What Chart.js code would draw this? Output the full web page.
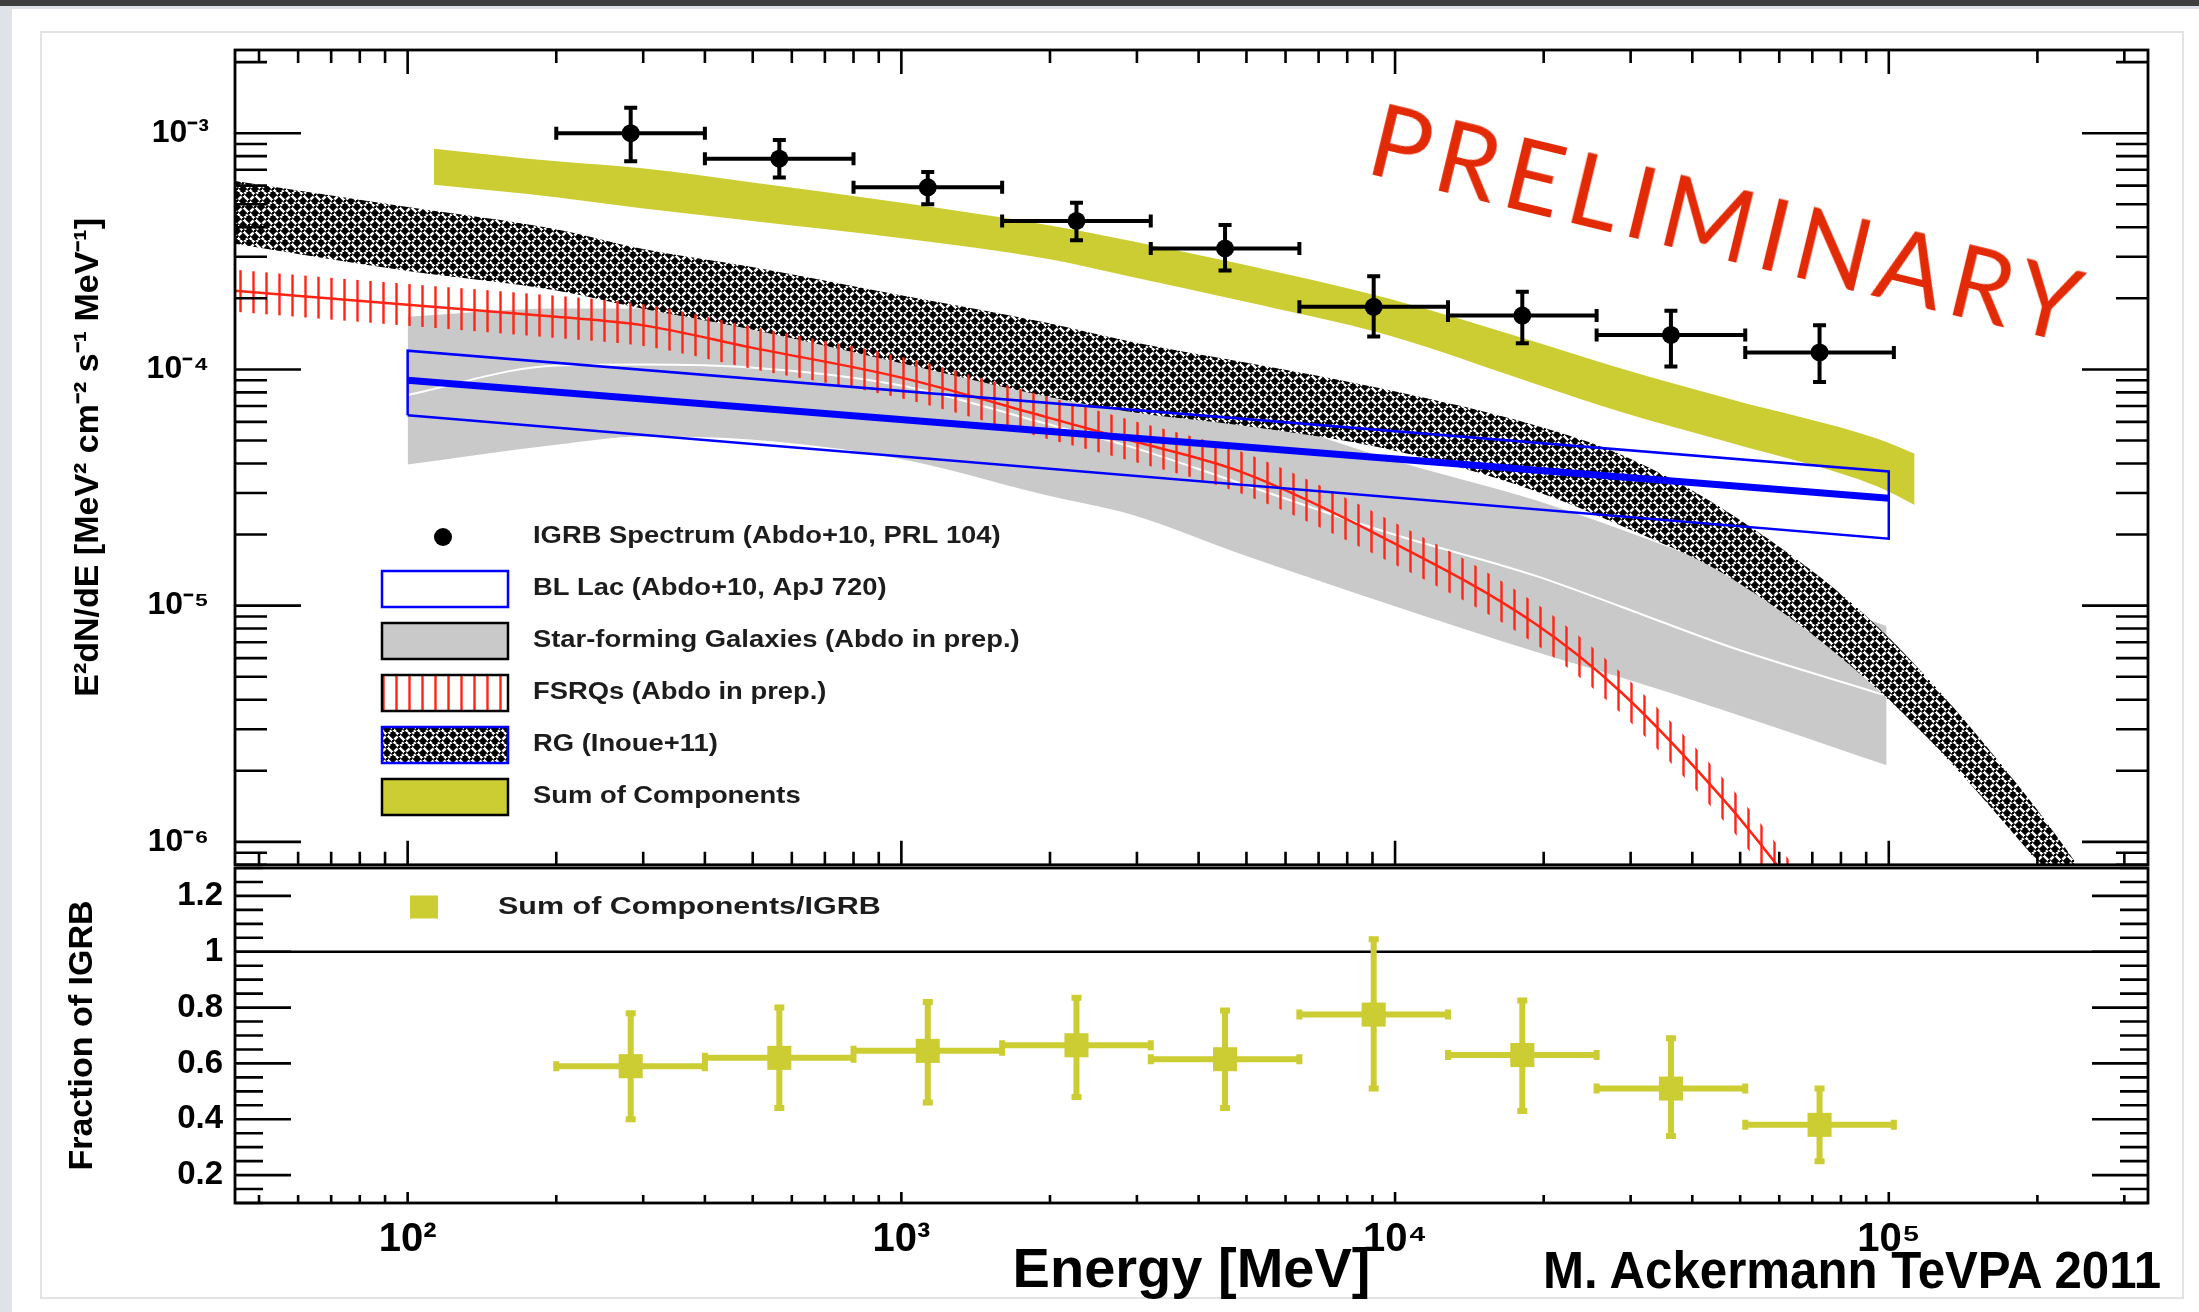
<!DOCTYPE html>
<html>
<head>
<meta charset="utf-8">
<title>IGRB source components</title>
<script src="https://cdn.jsdelivr.net/npm/chart.js@4.4.0/dist/chart.umd.min.js"></script>
<style>
  html, body { margin: 0; padding: 0; }
  body { width: 2199px; height: 1312px; background: #dfe3e7; position: relative; overflow: hidden; }
  #topbar { position: absolute; left: 0; top: 0; width: 2199px; height: 6px; background: #3f3f3f; }
  #sheet { position: absolute; left: 12px; top: 9px; width: 2187px; height: 1303px; background: #fff; }
  #frame { position: absolute; left: 40px; top: 31px; width: 2140px; height: 1264px; border: 2px solid #e3e3e3; }
  canvas { position: absolute; left: 0; }
  #cTop { top: 0; }
  #cBot { top: 836px; }
  #prelim {
    position: absolute; left: 1730px; top: 221px;
    transform: translate(-50%, -50%) rotate(13.6deg);
    font-family: Lato, 'Open Sans', sans-serif; font-size: 100px; letter-spacing: 8px;
    line-height: 1; color: #e22a06; white-space: nowrap;
  }
  #credit {
    position: absolute; left: 1543px; top: 1245px;
    font-family: 'Liberation Sans', Arial, sans-serif; font-weight: bold; font-size: 51px;
    line-height: 1; color: #000; white-space: nowrap;
    transform: scaleX(0.965); transform-origin: left center;
  }
</style>
</head>
<body>
<div id="topbar"></div>
<div id="sheet"></div>
<div id="frame"></div>
<canvas id="cTop" width="2199" height="910"></canvas>
<canvas id="cBot" width="2199" height="476"></canvas>
<div id="prelim">PRELIMINARY</div>
<div id="credit">M. Ackermann TeVPA 2011</div>
<script>
// axis ranges and tick labels
var xMin = 44.7, xMax = 3.35e5;
var fluxMin = 8.0e-7, fluxMax = 2.25e-3;
var fracMin = 0.1, fracMax = 1.3;
var energyTicks = [1e2, 1e3, 1e4, 1e5];
var fluxTicks = [1e-6, 1e-5, 1e-4, 1e-3];
var fracTicks = [0.2, 0.4, 0.6, 0.8, 1, 1.2];

// IGRB spectrum (energy bins in MeV, E^2 dN/dE)
var binLo  = [200, 400, 800, 1600, 3200, 6400, 12800, 25600, 51200];
var binHi  = [400, 800, 1600, 3200, 6400, 12800, 25600, 51200, 102400];
var binMid = [283, 566, 1131, 2263, 4525, 9051, 18102, 36204, 72408];
var igrbFlux = [1.0e-3, 7.8e-4, 5.9e-4, 4.25e-4, 3.25e-4, 1.84e-4, 1.69e-4, 1.40e-4, 1.18e-4];
var igrbUp   = [1.28e-3, 9.35e-4, 6.85e-4, 5.08e-4, 4.09e-4, 2.48e-4, 2.13e-4, 1.77e-4, 1.54e-4];
var igrbDown = [7.6e-4, 6.5e-4, 5.0e-4, 3.52e-4, 2.62e-4, 1.38e-4, 1.29e-4, 1.03e-4, 8.85e-5];

// sum of components band
var sumE  = [113, 200, 298, 495, 985, 1960, 2920, 4850, 9650, 19200, 28700, 47600, 94600, 112800];
var sumHi = [8.6e-4, 7.6e-4, 7.1e-4, 6.2e-4, 5.1e-4, 4.1e-4, 3.5e-4, 2.8e-4, 2.0e-4, 1.31e-4, 1.01e-4, 7.5e-5, 5.1e-5, 4.4e-5];
var sumLo = [6.05e-4, 5.36e-4, 4.81e-4, 4.26e-4, 3.61e-4, 2.95e-4, 2.47e-4, 1.96e-4, 1.40e-4, 8.7e-5, 6.6e-5, 4.9e-5, 3.2e-5, 2.67e-5];

// radio galaxies band
var rgE  = [44, 100, 200, 298, 495, 985, 1960, 2920, 4850, 9650, 19200, 28700, 47600, 94600, 188000, 281000];
var rgHi = [6.3e-4, 4.87e-4, 3.92e-4, 3.24e-4, 2.72e-4, 2.07e-4, 1.58e-4, 1.31e-4, 1.08e-4, 8.2e-5, 5.8e-5, 4.35e-5, 2.46e-5, 8.2e-6, 1.61e-6, 5.1e-7];
var rgLo = [3.42e-4, 2.61e-4, 2.16e-4, 1.81e-4, 1.48e-4, 1.07e-4, 7.7e-5, 6.6e-5, 5.8e-5, 4.6e-5, 3.06e-5, 2.18e-5, 1.32e-5, 4.45e-6, 9.6e-7, 3.2e-7];

// FSRQ band
var fsrqE   = [44, 100, 200, 298, 495, 985, 1960, 2920, 4850, 9650, 19200, 28700, 47600, 67000];
var fsrqMid = [2.16e-4, 1.88e-4, 1.67e-4, 1.54e-4, 1.24e-4, 9.3e-5, 6.3e-5, 5.0e-5, 3.7e-5, 1.9e-5, 8.4e-6, 4.3e-6, 1.41e-6, 5.8e-7];
var fsrqHi  = [2.65e-4, 2.30e-4, 2.05e-4, 1.89e-4, 1.52e-4, 1.14e-4, 7.7e-5, 6.1e-5, 4.5e-5, 2.33e-5, 1.03e-5, 5.2e-6, 1.73e-6, 7.1e-7];
var fsrqLo  = [1.76e-4, 1.53e-4, 1.36e-4, 1.26e-4, 1.01e-4, 7.6e-5, 5.1e-5, 4.1e-5, 3.0e-5, 1.55e-5, 6.9e-6, 3.5e-6, 1.15e-6, 4.75e-7];

// star-forming galaxies band
var sfgE   = [100, 200, 298, 495, 985, 1960, 2920, 4850, 9650, 19200, 28700, 47600, 99000];
var sfgHi  = [1.67e-4, 1.81e-4, 1.81e-4, 1.79e-4, 1.52e-4, 1.11e-4, 9.4e-5, 6.7e-5, 4.2e-5, 2.8e-5, 2.1e-5, 1.41e-5, 8.2e-6];
var sfgMid = [7.8e-5, 1.04e-4, 1.05e-4, 1.02e-4, 8.6e-5, 5.9e-5, 4.7e-5, 3.3e-5, 2.04e-5, 1.34e-5, 9.9e-6, 6.7e-6, 4.16e-6];
var sfgLo  = [3.96e-5, 4.8e-5, 5.2e-5, 5.05e-5, 4.2e-5, 2.94e-5, 2.43e-5, 1.66e-5, 1.02e-5, 6.4e-6, 4.96e-6, 3.54e-6, 2.11e-6];

// BL Lac power law band
var blLacE   = [100, 100000];
var blLacHi  = [1.2e-4, 3.7e-5];
var blLacMid = [9.0e-5, 2.85e-5];
var blLacLo  = [6.4e-5, 1.92e-5];

// lower panel: sum of components / IGRB
var frac     = [0.59, 0.62, 0.645, 0.665, 0.615, 0.775, 0.63, 0.51, 0.38];
var fracUp   = [0.78, 0.80, 0.82, 0.835, 0.79, 1.045, 0.825, 0.69, 0.51];
var fracDown = [0.40, 0.44, 0.46, 0.48, 0.44, 0.51, 0.43, 0.34, 0.25];
var unityLine = [1, 1];

var legendLabels = ['IGRB Spectrum (Abdo+10, PRL 104)', 'BL Lac (Abdo+10, ApJ 720)',
    'Star-forming Galaxies (Abdo in prep.)', 'FSRQs (Abdo in prep.)', 'RG (Inoue+11)', 'Sum of Components'];
var ratioLabel = 'Sum of Components/IGRB';

var FONT = "'Liberation Sans', Arial, Helvetica, sans-serif";
Chart.defaults.font.family = FONT;
Chart.defaults.color = '#000';

var olive = 'rgb(204,204,51)';
var gray = '#c9c9c9';
var blue = '#0000ff';
var red = '#ff2414';

function pts(xs, ys) {
    return xs.map(function(x, i) { return { x: x, y: ys[i] }; });
}

var SUP = { '-': '\u207B', '0': '\u2070', '1': '\u00B9', '2': '\u00B2', '3': '\u00B3', '4': '\u2074',
            '5': '\u2075', '6': '\u2076', '7': '\u2077', '8': '\u2078', '9': '\u2079' };
function powLabel(v) {
    var e = String(Math.round(Math.log10(v)));
    return '10' + e.split('').map(function(c) { return SUP[c]; }).join('');
}

// woven black/white hatch for the RG band
function makeWeave() {
    var s = 12;
    var t = document.createElement('canvas');
    t.width = s; t.height = s;
    var g = t.getContext('2d');
    g.fillStyle = '#000';
    g.fillRect(0, 0, s, s);
    g.lineCap = 'butt';
    // "/" strands
    g.strokeStyle = '#fff';
    g.lineWidth = 2.6;
    g.beginPath();
    g.moveTo(6, 0); g.lineTo(-6, 12);
    g.moveTo(18, 0); g.lineTo(6, 12);
    g.stroke();
    // "\" strands on top, with a thin dark rim so they look woven
    function back(w, c) {
        g.strokeStyle = c;
        g.lineWidth = w;
        g.beginPath();
        for (var k = -1; k <= 1; k++) { g.moveTo(k * s, 0); g.lineTo(k * s + s, s); }
        g.stroke();
    }
    back(4.2, '#000');
    back(2.4, '#fff');
    g.fillStyle = '#000';
    g.fillRect(2, 2, 2, 2);
    g.fillRect(8, 8, 2, 2);
    return g.createPattern(t, 'repeat');
}
function makeVLines() {
    var t = document.createElement('canvas');
    t.width = 13; t.height = 4;
    var g = t.getContext('2d');
    g.strokeStyle = red;
    g.lineWidth = 2.4;
    g.beginPath(); g.moveTo(6.5, 0); g.lineTo(6.5, 4); g.stroke();
    return g.createPattern(t, 'repeat');
}
var rgPattern = makeWeave();
var fsrqPattern = makeVLines();

function logTickValues(min, max) {
    var out = [];
    for (var e = Math.floor(Math.log10(min)); e <= Math.ceil(Math.log10(max)); e++) {
        for (var m = 1; m <= 9; m++) {
            var v = m * Math.pow(10, e);
            if (v >= min && v <= max) out.push({ v: v, major: m === 1 });
        }
    }
    return out;
}
function linTickValues(min, max, step, majorStep) {
    var out = [];
    for (var i = Math.ceil(min / step - 1e-9); i * step <= max + 1e-9; i++) {
        var v = i * step;
        out.push({ v: v, major: Math.abs(v / majorStep - Math.round(v / majorStep)) < 1e-6 });
    }
    return out;
}

// ROOT style frame with inward ticks on every side
var rootFrame = {
    id: 'rootFrame',
    afterDatasetsDraw: function(chart, args, o) {
        var a = chart.chartArea, ctx = chart.ctx;
        var xs = chart.scales.x, ys = chart.scales.y;
        ctx.save();
        ctx.strokeStyle = '#000';
        ctx.lineWidth = 2.6;
        ctx.beginPath();
        logTickValues(xs.min, xs.max).forEach(function(t) {
            var x = xs.getPixelForValue(t.v);
            if (o.xTop) { ctx.moveTo(x, a.top); ctx.lineTo(x, a.top + (t.major ? o.xTop[0] : o.xTop[1])); }
            if (o.xBottom) { ctx.moveTo(x, a.bottom); ctx.lineTo(x, a.bottom - (t.major ? o.xBottom[0] : o.xBottom[1])); }
        });
        var yt = o.yLog ? logTickValues(ys.min, ys.max) : linTickValues(ys.min, ys.max, o.yStep, o.yMajorStep);
        yt.forEach(function(t) {
            var y = ys.getPixelForValue(t.v);
            var len = t.major ? o.yLen[0] : o.yLen[1];
            ctx.moveTo(a.left, y); ctx.lineTo(a.left + len, y);
            ctx.moveTo(a.right, y); ctx.lineTo(a.right - len, y);
        });
        ctx.stroke();
        ctx.lineWidth = 2.8;
        ctx.strokeRect(a.left, a.top, a.right - a.left, a.bottom - a.top);
        ctx.restore();
    }
};

// horizontal and vertical error bars with end caps
var errorBars = {
    id: 'errorBars',
    afterDatasetsDraw: function(chart) {
        var ctx = chart.ctx, xs = chart.scales.x, ys = chart.scales.y;
        chart.data.datasets.forEach(function(ds) {
            var eb = ds.errorBars;
            if (!eb) return;
            ctx.save();
            ctx.strokeStyle = eb.color;
            ctx.lineWidth = eb.width;
            ctx.beginPath();
            ds.data.forEach(function(p, k) {
                var x = xs.getPixelForValue(p.x), y = ys.getPixelForValue(p.y);
                var x0 = xs.getPixelForValue(eb.xLo[k]), x1 = xs.getPixelForValue(eb.xHi[k]);
                var y0 = ys.getPixelForValue(eb.yLo[k]), y1 = ys.getPixelForValue(eb.yHi[k]);
                ctx.moveTo(x0, y); ctx.lineTo(x1, y);
                ctx.moveTo(x, y0); ctx.lineTo(x, y1);
                ctx.moveTo(x0, y - eb.cap); ctx.lineTo(x0, y + eb.cap);
                ctx.moveTo(x1, y - eb.cap); ctx.lineTo(x1, y + eb.cap);
                ctx.moveTo(x - eb.cap, y0); ctx.lineTo(x + eb.cap, y0);
                ctx.moveTo(x - eb.cap, y1); ctx.lineTo(x + eb.cap, y1);
            });
            ctx.stroke();
            ctx.restore();
        });
    }
};

function wideText(ctx, text, x, y, stretch) {
    ctx.save();
    ctx.translate(x, y);
    ctx.scale(stretch, 1);
    ctx.fillText(text, 0, 0);
    ctx.restore();
}

// legend boxes drawn inside the upper pad
var topLegend = {
    id: 'topLegend',
    afterDraw: function(chart) {
        var ctx = chart.ctx;
        var rows = [537, 589, 641, 693, 745, 797];
        var sx = 382, sw = 126, sh = 36;
        var fills = [null, '#fff', gray, '#fff', rgPattern, olive];
        var edges = [null, blue, '#000', '#000', blue, '#000'];
        ctx.save();
        ctx.lineWidth = 2.5;
        rows.forEach(function(y, i) {
            var top = y - sh / 2;
            if (i === 0) {
                ctx.fillStyle = '#000';
                ctx.beginPath(); ctx.arc(443, y, 9, 0, Math.PI * 2); ctx.fill();
            } else {
                ctx.fillStyle = fills[i];
                ctx.fillRect(sx, top, sw, sh);
                if (i === 3) { ctx.fillStyle = fsrqPattern; ctx.fillRect(sx, top, sw, sh); }
                ctx.strokeStyle = edges[i];
                ctx.strokeRect(sx, top, sw, sh);
            }
            ctx.fillStyle = '#1c1c1c';
            ctx.font = 'bold 23px ' + FONT;
            ctx.textBaseline = 'middle';
            ctx.textAlign = 'left';
            wideText(ctx, legendLabels[i], 533, y, 1.19);
        });
        ctx.restore();
    }
};

var botLegend = {
    id: 'botLegend',
    afterDraw: function(chart) {
        var ctx = chart.ctx;
        var y = 907 - 836;
        ctx.save();
        ctx.fillStyle = olive;
        ctx.fillRect(410, y - 11.5, 28, 23);
        ctx.fillStyle = '#1c1c1c';
        ctx.font = 'bold 24px ' + FONT;
        ctx.textBaseline = 'middle';
        ctx.textAlign = 'left';
        wideText(ctx, ratioLabel, 498, y, 1.27);
        ctx.restore();
    }
};

var edgeLine = { pointRadius: 0, borderWidth: 1, borderColor: 'rgba(0,0,0,0)', cubicInterpolationMode: 'monotone' };
function band(label, e, hi, lo, fillStyle, order) {
    return [
        Object.assign({ label: label, data: pts(e, hi), fill: '+1', backgroundColor: fillStyle, order: order }, edgeLine),
        Object.assign({ label: label + ' lower edge', data: pts(e, lo), fill: false, order: order }, edgeLine)
    ];
}

var blLacBox = [
    { x: blLacE[0], y: blLacLo[0] }, { x: blLacE[0], y: blLacHi[0] },
    { x: blLacE[1], y: blLacHi[1] }, { x: blLacE[1], y: blLacLo[1] },
    { x: blLacE[0], y: blLacLo[0] }
];

var topSets = [].concat(
    [{
        label: legendLabels[0], data: pts(binMid, igrbFlux), showLine: false,
        pointStyle: 'circle', pointRadius: 9, backgroundColor: '#000', borderColor: '#000', borderWidth: 0, order: 0,
        errorBars: { xLo: binLo, xHi: binHi, yLo: igrbDown, yHi: igrbUp, color: '#000', width: 4, cap: 6.5 }
    }],
    [{ label: 'BL Lac best fit', data: pts(blLacE, blLacMid), borderColor: blue, borderWidth: 7, pointRadius: 0, fill: false, order: 1 },
     { label: legendLabels[1], data: blLacBox, borderColor: blue, borderWidth: 2.5, pointRadius: 0, fill: false, order: 1.5 }],
    band(legendLabels[5], sumE, sumHi, sumLo, olive, 2),
    [Object.assign({}, edgeLine, { label: 'FSRQ model', data: pts(fsrqE, fsrqMid), borderColor: red, borderWidth: 2.5, fill: false, order: 3 })],
    band(legendLabels[3], fsrqE, fsrqHi, fsrqLo, fsrqPattern, 3.5),
    band(legendLabels[4], rgE, rgHi, rgLo, rgPattern, 4),
    [Object.assign({}, edgeLine, { label: 'SFG model', data: pts(sfgE, sfgMid), borderColor: '#fff', borderWidth: 2, fill: false, order: 5 })],
    band(legendLabels[2], sfgE, sfgHi, sfgLo, gray, 5.5)
);

var topChart = new Chart(document.getElementById('cTop'), {
    type: 'line',
    data: { datasets: topSets },
    options: {
        responsive: false,
        animation: false,
        devicePixelRatio: 1,
        events: [],
        layout: { padding: { left: 0, top: 50, right: 51, bottom: 42 } },
        plugins: {
            legend: { display: false },
            tooltip: { enabled: false },
            rootFrame: { xTop: [24, 13], xBottom: [24, 13], yLog: true, yLen: [66, 32] }
        },
        scales: {
            x: { type: 'logarithmic', min: xMin, max: xMax, display: false },
            y: {
                type: 'logarithmic', min: fluxMin, max: fluxMax,
                afterBuildTicks: function(s) { s.ticks = fluxTicks.map(function(v) { return { value: v }; }); },
                afterFit: function(s) { s.width = 235; },
                grid: { display: false, drawTicks: false },
                border: { display: false },
                ticks: { callback: powLabel, autoSkip: false, padding: 26, font: { size: 32, weight: 'bold' } },
                title: {
                    display: true, text: 'E\u00B2dN/dE [MeV\u00B2 cm\u207B\u00B2 s\u207B\u00B9 MeV\u207B\u00B9]',
                    font: { size: 34, weight: 'bold' }, padding: { top: 68, bottom: 0 }
                }
            }
        }
    },
    plugins: [errorBars, rootFrame, topLegend]
});

var botChart = new Chart(document.getElementById('cBot'), {
    type: 'line',
    data: {
        datasets: [{
            label: ratioLabel, data: pts(binMid, frac), showLine: false,
            pointStyle: 'rect', pointRadius: 17, backgroundColor: olive, borderColor: olive, borderWidth: 0, order: 0,
            errorBars: { xLo: binLo, xHi: binHi, yLo: fracDown, yHi: fracUp, color: olive, width: 6, cap: 5 }
        }, {
            label: 'unity', data: pts([xMin, xMax], unityLine), borderColor: '#000', borderWidth: 2.6,
            pointRadius: 0, fill: false, order: 1
        }]
    },
    options: {
        responsive: false,
        animation: false,
        devicePixelRatio: 1,
        events: [],
        layout: { padding: { left: 0, top: 32, right: 51, bottom: 0 } },
        plugins: {
            legend: { display: false },
            tooltip: { enabled: false },
            rootFrame: { xBottom: [11, 8], yLog: false, yStep: 0.05, yMajorStep: 0.2, yLen: [56, 28] }
        },
        scales: {
            x: {
                type: 'logarithmic', min: xMin, max: xMax,
                afterBuildTicks: function(s) { s.ticks = energyTicks.map(function(v) { return { value: v }; }); },
                afterFit: function(s) { s.height = 109; },
                grid: { display: false, drawTicks: false },
                border: { display: false },
                ticks: { callback: powLabel, autoSkip: false, maxRotation: 0, padding: 13, font: { size: 40, weight: 'bold' } },
                title: { display: true, text: 'Energy [MeV]', font: { size: 56, weight: 'bold' }, padding: { top: 0, bottom: 7 } }
            },
            y: {
                type: 'linear', min: fracMin, max: fracMax,
                afterBuildTicks: function(s) { s.ticks = fracTicks.map(function(v) { return { value: v }; }); },
                afterFit: function(s) { s.width = 235; },
                grid: { display: false, drawTicks: false },
                border: { display: false },
                ticks: {
                    callback: function(v) { return String(Math.round(v * 10) / 10); },
                    autoSkip: false, padding: 12, font: { size: 33, weight: 'bold' }
                },
                title: { display: true, text: 'Fraction of IGRB', font: { size: 34, weight: 'bold' }, padding: { top: 62, bottom: 0 } }
            }
        }
    },
    plugins: [errorBars, rootFrame, botLegend]
});
</script>
</body>
</html>
